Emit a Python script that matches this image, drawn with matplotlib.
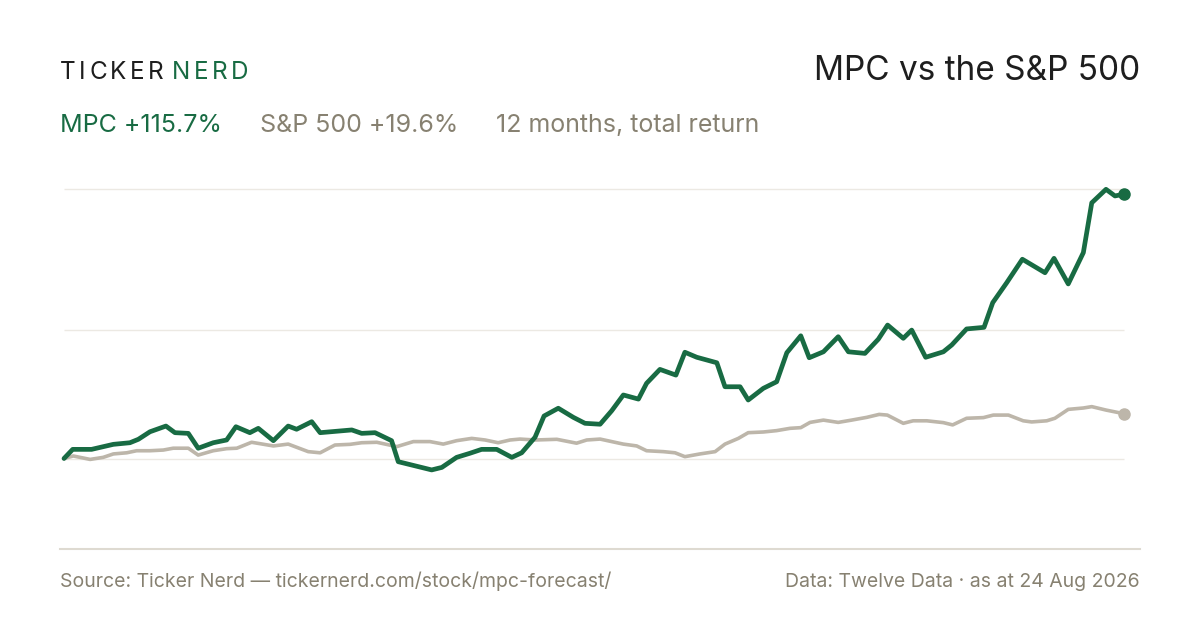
import numpy as np
import matplotlib.pyplot as plt

# 12 months of total return, in %, against days since the start (24 Aug 2025)
mpc_days = [0, 3.0, 9.5, 17.0, 22.7, 25.6, 29.6, 35.1, 38.2, 42.8, 46.2, 51.4, 56.0, 59.2,
            64.0, 66.9, 72.1, 77.2, 80.1, 85.3, 88.2, 99.1, 102.5, 107.1, 112.8, 115.1,
            126.6, 130.1, 135.2, 139.8, 143.8, 149.0, 154.2, 157.6, 162.2, 165.3, 170.2,
            175.4, 179.4, 184.6, 188.6, 192.6, 197.8, 200.6, 205.2, 210.7, 213.8, 217.9,
            224.8, 227.6, 232.8, 235.6, 240.8, 245.4, 248.9, 253.7, 256.6, 261.5, 266.6,
            270.1, 275.8, 280.4, 283.6, 289.0, 291.9, 296.7, 302.8, 305.7, 310.8, 316.8,
            319.8, 324.6, 330.0, 337.8, 340.9, 345.8, 351.0, 353.9, 358.8, 361.9, 365]
mpc_ret = [0, 4.0, 4.0, 6.2, 6.9, 8.4, 11.7, 14.2, 11.3, 11.0, 4.5, 6.9, 8.1, 13.9,
           11.3, 13.2, 7.8, 14.2, 12.8, 16.1, 11.3, 12.5, 11.0, 11.3, 7.8, -1.4,
           -5.0, -3.9, 0.5, 2.3, 4.0, 4.0, 0.5, 2.5, 9.3, 18.6, 22.0,
           18.0, 15.4, 15.0, 20.9, 27.8, 26.0, 32.9, 39.0, 36.5, 46.5, 44.3,
           41.9, 31.4, 31.4, 25.6, 30.7, 33.6, 46.3, 53.7, 44.1, 46.7, 53.3,
           46.7, 46.0, 52.2, 58.4, 52.6, 56.2, 44.3, 46.7, 49.7, 56.7, 57.4,
           68.2, 76.9, 87.2, 81.3, 87.6, 76.4, 90.1, 111.9, 117.8, 114.9, 115.7]

spx_days = [0, 3.2, 9.0, 13.5, 17.0, 21.6, 25.0, 29.6, 34.2, 37.6, 42.8, 46.2, 51.4, 56.0,
            59.5, 64.6, 72.1, 77.2, 84.1, 88.2, 93.3, 98.5, 102.5, 107.7, 114.6, 120.3,
            126.0, 130.6, 135.2, 140.4, 145.0, 149.5, 153.6, 157.0, 162.2, 169.7, 176.5,
            180.0, 184.6, 192.6, 197.2, 200.6, 206.4, 210.4, 213.8, 219.0, 224.2, 227.6,
            232.2, 235.6, 240.8, 245.4, 250.0, 253.7, 256.9, 261.5, 266.6, 271.2, 276.4,
            280.7, 283.5, 289.0, 292.4, 297.1, 302.8, 306.0, 310.8, 316.6, 320.0, 325.2,
            330.3, 333.2, 338.4, 341.2, 345.8, 351.0, 353.9, 358.8, 365]
spx_ret = [0, 1.1, -0.4, 0.5, 2.0, 2.5, 3.4, 3.4, 3.7, 4.5, 4.5, 1.5, 3.4, 4.3,
           4.5, 7.1, 5.5, 6.3, 3.0, 2.5, 5.9, 6.2, 6.9, 7.1, 5.2, 7.4,
           7.4, 6.3, 7.8, 8.8, 8.1, 6.9, 8.1, 8.5, 8.1, 8.4, 6.7,
           8.1, 8.5, 6.3, 5.5, 3.4, 3.0, 2.5, 0.8, 2.0, 3.0, 6.3,
           8.8, 11.3, 11.6, 12.2, 13.2, 13.5, 15.8, 16.8, 15.8, 16.8, 18.0,
           19.3, 19.0, 15.4, 16.5, 16.5, 15.7, 14.7, 17.6, 17.9, 19.0, 19.0,
           16.5, 16.0, 16.5, 17.6, 21.5, 22.1, 22.7, 21.2, 19.6]

GREEN = "#186b43"
SAND = "#bdb6aa"
GREY = "#878171"
DARK = "#1e1e1e"
FONT = "Inter"

W, H = 1200, 630
fig = plt.figure(figsize=(W / 100, H / 100), dpi=100)
fig.patch.set_facecolor("white")
renderer = fig.canvas.get_renderer()


def fx(x):
    return x / W


def fy(y):
    return 1 - y / H


def put(x, y, s, tracking=0.0, **kw):
    """draw text from pixel x (left, baseline y), return right edge in px"""
    if tracking == 0:
        t = fig.text(fx(x), fy(y), s, va="baseline", ha="left", family=FONT, **kw)
        return x + t.get_window_extent(renderer=renderer).width
    for ch in s:
        t = fig.text(fx(x), fy(y), ch, va="baseline", ha="left", family=FONT, **kw)
        x += t.get_window_extent(renderer=renderer).width + tracking
    return x - tracking


# plot area: x 60..1140 px, y 170..549 px
ax = fig.add_axes([fx(60), fy(549), fx(1080), (549 - 170) / H])
px_per_pct = 2.285
zero_px = 458.5
ax.set_ylim((zero_px - 549) / px_per_pct, (zero_px - 170) / px_per_pct)
day_per_px = 365 / 1060
ax.set_xlim((60 - 64) * day_per_px, (1140 - 64) * day_per_px)

lo, hi = min(mpc_ret), max(mpc_ret)
grid_vals = [0, (lo + hi) / 2, hi]
ax.hlines(grid_vals, 0, 365, color="#ece9e3", lw=1.0, zorder=0)

ax.plot(spx_days, spx_ret, color=SAND, lw=2.6, solid_joinstyle="round",
        solid_capstyle="round", zorder=2)
ax.plot(mpc_days, mpc_ret, color=GREEN, lw=3.4, solid_joinstyle="round",
        solid_capstyle="round", zorder=3)
ax.plot(spx_days[-1], spx_ret[-1], "o", color=SAND, ms=8, zorder=4)
ax.plot(mpc_days[-1], mpc_ret[-1], "o", color=GREEN, ms=8, zorder=5)

for side in ["top", "left", "right"]:
    ax.spines[side].set_visible(False)
ax.spines["bottom"].set_color("#dedad1")
ax.spines["bottom"].set_linewidth(1.5)
ax.set_xticks([])
ax.set_yticks([])
ax.patch.set_alpha(0)

# header
end = put(60, 78.7, "TICKER", tracking=3.5, fontsize=17.5, color=DARK)
put(end + 8, 78.7, "NERD", tracking=3.5, fontsize=17.5, color=GREEN)
fig.text(fx(1140), fy(80), "MPC vs the S&P 500", ha="right", va="baseline",
         family=FONT, fontsize=24, color=DARK)

end = put(60, 132, f"MPC +{mpc_ret[-1]:.1f}%", fontsize=18, color=GREEN)
end = put(end + 38, 132, f"S&P 500 +{spx_ret[-1]:.1f}%", fontsize=18, color=GREY)
put(end + 38, 132, "12 months, total return", fontsize=18, color=GREY)

# footer
fig.text(fx(60), fy(586.7), "Source: Ticker Nerd \u2014 tickernerd.com/stock/mpc-forecast/",
         ha="left", va="baseline", family=FONT, fontsize=14, color=GREY)
fig.text(fx(1140), fy(586.7), "Data: Twelve Data \u00b7 as at 24 Aug 2026",
         ha="right", va="baseline", family=FONT, fontsize=14, color=GREY)

fig.savefig("out.png", dpi=100, facecolor="white")
